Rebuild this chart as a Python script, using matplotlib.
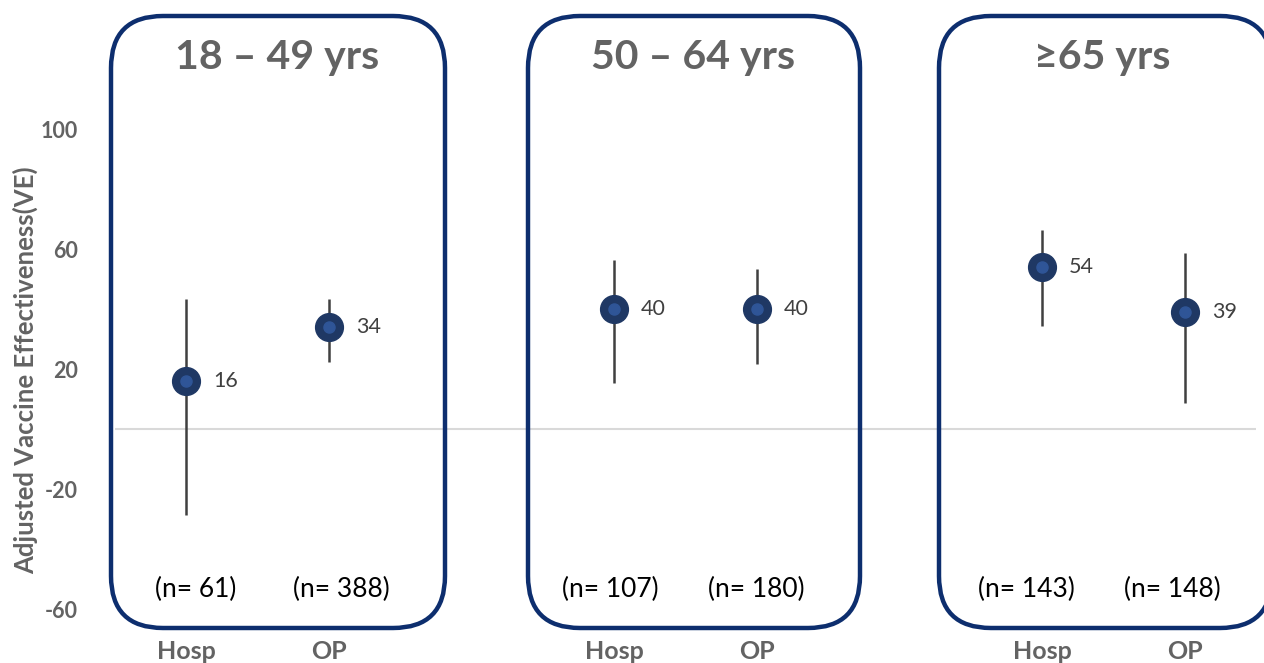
import matplotlib
matplotlib.use("Agg")
import matplotlib.pyplot as plt
from matplotlib.patches import FancyBboxPatch

# ---- data ----
groups = ["18 – 49 yrs", "50 – 64 yrs", "≥65 yrs"]
settings = ["Hosp", "OP"]
hosp_ve = [16, 40, 54]
hosp_lo = [-28.7, 15.5, 34.5]
hosp_hi = [43.5, 56.3, 66.3]
op_ve = [34, 40, 39]
op_lo = [22.3, 21.7, 8.7]
op_hi = [43.5, 53.3, 58.7]
hosp_n = [61, 107, 143]
op_n = [388, 180, 148]
y_ticks = [-60, -20, 20, 60, 100]

W, H = 1264, 663
fig = plt.figure(figsize=(W / 100, H / 100), dpi=100)
FONT = ["Lato", "DejaVu Sans"]
plt.rcParams['font.family'] = FONT

GRAY = "#636363"
NAVY = "#0D2E6E"
MK_OUT = "#1F3864"
MK_IN = "#2F5597"
BAR = "#404040"

# axes in pixel placement
ax_left, ax_right = 115, 1256
ax_top, ax_bot = 129, 609
ax = fig.add_axes([ax_left / W, 1 - ax_bot / H, (ax_right - ax_left) / W, (ax_bot - ax_top) / H])
ax.set_xlim(-0.5, 7.5)
ax.set_ylim(-60, 100)
for s in ax.spines.values():
    s.set_visible(False)
ax.set_facecolor("none")

ax.axhline(0, color="#D9D9D9", lw=1.5, zorder=1)

xs_h = [3 * i for i in range(len(groups))]
xs_o = [3 * i + 1 for i in range(len(groups))]
# small horizontal nudges (pixels) of the n-labels as in the original layout
n_dx_h = [9, -4, -16]
n_dx_o = [12, -1, -12]

def draw(xs, ve, lo, hi, ns, ndx):
    for x, v, l, h, n, dx in zip(xs, ve, lo, hi, ns, ndx):
        ax.vlines(x, l, h, color=BAR, lw=1.8, zorder=2)
        ax.plot([x], [v], 'o', ms=20, color=MK_OUT, mec=MK_OUT, zorder=3)
        ax.plot([x], [v], 'o', ms=8, color=MK_IN, mec=MK_IN, zorder=4)
        ax.annotate(str(v), (x, v), xytext=(27, 0), textcoords="offset pixels",
                    ha="left", va="center", fontsize=15.5, color=BAR, zorder=5)
        ax.annotate(f"(n= {n})", (x, 0.04), xycoords=ax.get_xaxis_transform(),
                    xytext=(dx, 0), textcoords="offset pixels",
                    ha="center", va="center", fontsize=19, color="black")

draw(xs_h, hosp_ve, hosp_lo, hosp_hi, hosp_n, n_dx_h)
draw(xs_o, op_ve, op_lo, op_hi, op_n, n_dx_o)

ax.set_xticks(xs_h + xs_o)
ax.set_xticklabels([settings[0]] * 3 + [settings[1]] * 3)
ax.tick_params(axis="x", length=0, pad=22, labelsize=18, labelcolor=GRAY)
for t in ax.get_xticklabels():
    t.set_fontweight("bold")
ax.set_yticks(y_ticks)
ax.set_yticklabels([str(v) for v in y_ticks])
ax.tick_params(axis="y", length=0, pad=27, labelsize=15.5, labelcolor=GRAY)
for t in ax.get_yticklabels():
    t.set_fontweight("bold")

fig.text(25 / W, 1 - 370 / H, "Adjusted Vaccine Effectiveness(VE)", rotation=90,
         ha="center", va="center", fontsize=18.5, fontweight="bold", color=GRAY)

# overlay axes in pixel coordinates for rounded group boxes
ov = fig.add_axes([0, 0, 1, 1], zorder=5)
ov.set_xlim(0, W)
ov.set_ylim(H, 0)
ov.axis("off")
ov.set_facecolor("none")

boxes = [(111, 445), (528, 860), (939, 1272)]
title_cx = [277, 693, 1102]
for (x0, x1), cx, g in zip(boxes, title_cx, groups):
    y0, y1 = 16, 628
    # near-invisible face keeps Agg from clipping (and distorting) the curved path
    p = FancyBboxPatch((x0, y0), x1 - x0, y1 - y0,
                       boxstyle="round,pad=0,rounding_size=52",
                       fill=True, fc=(1, 1, 1, 0.002), ec=NAVY, lw=3.2,
                       clip_on=False)
    ov.add_patch(p)
    ov.text(cx, 58, g, ha="center", va="center",
            fontsize=29.5, fontweight="bold", color=GRAY)

fig.savefig("out.png", dpi=100)
